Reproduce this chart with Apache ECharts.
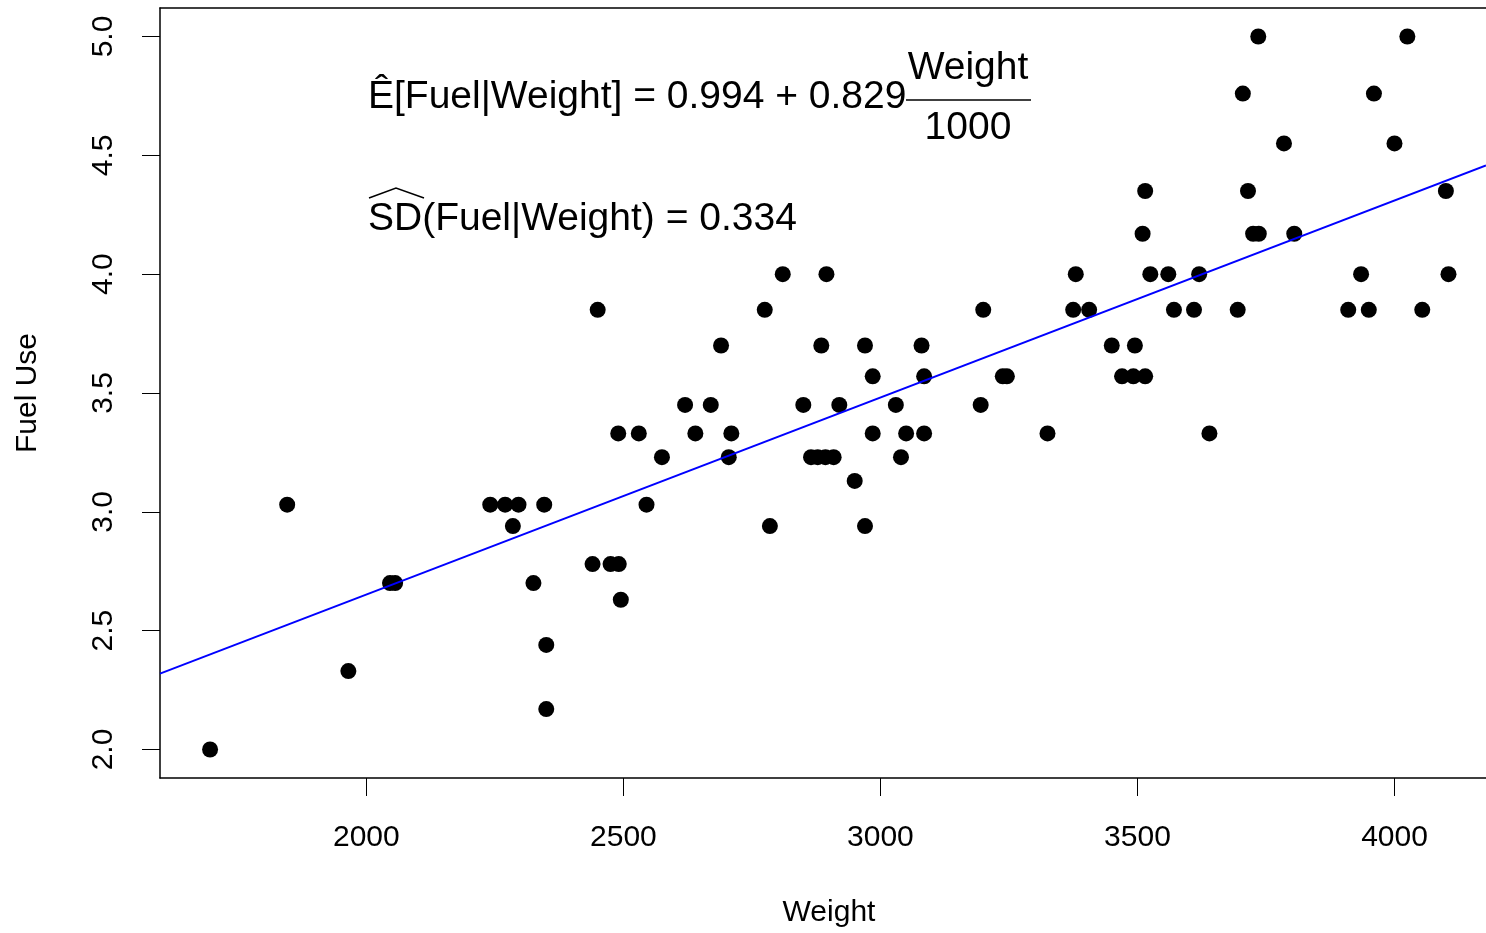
<!DOCTYPE html>
<html lang="en">
<head>
    <meta charset="UTF-8">
    <title>Fuel Use vs Weight</title>
    <script src="https://cdn.jsdelivr.net/npm/echarts@6/dist/echarts.min.js"></script>
    <style>
        html, body { margin: 0; padding: 0; background: #fff; }
        #main { width: 1486px; height: 933px; }
    </style>
</head>
<body>
    <div id="main"></div>
</body>
<script>

    // data
    var weight = [1696, 1846, 1965, 2046, 2056, 2241, 2270, 2285, 2296, 2325,
        2346, 2350, 2350, 2440, 2450, 2475, 2490, 2491, 2495, 2530,
        2545, 2575, 2620, 2640, 2670, 2690, 2705, 2710, 2775, 2785,
        2810, 2850, 2865, 2878, 2885, 2893, 2895, 2909, 2920, 2950,
        2970, 2970, 2985, 2985, 3030, 3040, 3050, 3080, 3085, 3085,
        3195, 3200, 3238, 3246, 3325, 3375, 3380, 3406, 3450, 3470,
        3492, 3495, 3510, 3515, 3515, 3525, 3560, 3571, 3610, 3620,
        3640, 3695, 3705, 3715, 3725, 3735, 3736, 3785, 3805, 3910,
        3935, 3950, 3960, 4000, 4025, 4054, 4100, 4105];
    var fuel = [2.00, 3.03, 2.33, 2.70, 2.70, 3.03, 3.03, 2.94, 3.03, 2.70,
        3.03, 2.44, 2.17, 2.78, 3.85, 2.78, 3.33, 2.78, 2.63, 3.33,
        3.03, 3.23, 3.45, 3.33, 3.45, 3.70, 3.23, 3.33, 3.85, 2.94,
        4.00, 3.45, 3.23, 3.23, 3.70, 3.23, 4.00, 3.23, 3.45, 3.13,
        3.70, 2.94, 3.57, 3.33, 3.45, 3.23, 3.33, 3.70, 3.57, 3.33,
        3.45, 3.85, 3.57, 3.57, 3.33, 3.85, 4.00, 3.85, 3.70, 3.57,
        3.57, 3.70, 4.17, 3.57, 4.35, 4.00, 4.00, 3.85, 3.85, 4.00,
        3.33, 3.85, 4.76, 4.35, 4.17, 5.00, 4.17, 4.55, 4.17, 3.85,
        4.00, 3.85, 4.76, 4.55, 5.00, 3.85, 4.35, 4.00];

    var xTicks = [2000, 2500, 3000, 3500, 4000];
    var yTicks = [2.0, 2.5, 3.0, 3.5, 4.0, 4.5, 5.0];

    // fitted line
    var intercept = 0.994;
    var slope = 0.829;

    // visible limits (the plot box runs off the right edge)
    var xMin = 1598.6, xMax = 4178;
    var yMin = 1.88, yMax = 5.12;

    var points = [];
    for (var i = 0; i < weight.length; i++) {
        points.push([weight[i], fuel[i]]);
    }
    var fitLine = [
        [xMin, intercept + slope * xMin / 1000],
        [xMax, intercept + slope * xMax / 1000]
    ];

    var FONT = 'Liberation Sans, Arial, Helvetica, sans-serif';
    var boxLine = { show: true, lineStyle: { color: '#000', width: 1.5 } };

    var myChart = echarts.init(document.getElementById('main'));

    var option = {
        animation: false,
        backgroundColor: '#fff',
        grid: { left: 160, top: 8, right: 0, bottom: 155 },
        xAxis: [
            {
                type: 'value',
                min: xMin, max: xMax,
                name: 'Weight',
                nameLocation: 'middle',
                nameGap: 120,
                nameTextStyle: { fontSize: 30, color: '#000', fontFamily: FONT, padding: [0, 0, 0, 12] },
                axisLine: boxLine,
                splitLine: { show: false },
                axisTick: { show: true, length: 18, lineStyle: { color: '#000', width: 1 }, customValues: xTicks },
                axisLabel: {
                    fontSize: 30, color: '#000', fontFamily: FONT, margin: 45, customValues: xTicks,
                    formatter: function (v) { return String(v); }
                }
            },
            {
                type: 'value',
                position: 'top',
                min: xMin, max: xMax,
                axisLine: boxLine,
                axisTick: { show: false },
                axisLabel: { show: false },
                splitLine: { show: false }
            }
        ],
        yAxis: {
            type: 'value',
            min: yMin, max: yMax,
            name: 'Fuel Use',
            nameLocation: 'middle',
            nameGap: 117,
            nameRotate: 90,
            nameTextStyle: { fontSize: 30, color: '#000', fontFamily: FONT },
            axisLine: boxLine,
            splitLine: { show: false },
            axisTick: { show: true, length: 18, lineStyle: { color: '#000', width: 1 }, customValues: yTicks },
            axisLabel: {
                fontSize: 30, color: '#000', fontFamily: FONT, margin: 41, rotate: 90,
                customValues: yTicks,
                formatter: function (v) { return v.toFixed(1); }
            }
        },
        series: [
            {
                type: 'scatter',
                data: points,
                symbol: 'circle',
                symbolSize: 16,
                itemStyle: { color: '#000', opacity: 1 },
                z: 2
            },
            {
                type: 'line',
                data: fitLine,
                showSymbol: false,
                symbol: 'none',
                lineStyle: { color: '#0000ff', width: 2 },
                z: 3
            }
        ],
        graphic: [
            {
                type: 'text', left: 368, top: 78, z: 10,
                style: { text: 'Ê[Fuel|Weight] = 0.994 + 0.829', fontSize: 39, fontFamily: FONT, fill: '#000' }
            },
            {
                type: 'text', x: 968, y: 68, z: 10,
                style: { text: 'Weight', fontSize: 39, fontFamily: FONT, fill: '#000', align: 'center', verticalAlign: 'middle' }
            },
            {
                type: 'line', z: 10,
                shape: { x1: 906, y1: 100, x2: 1031, y2: 100 },
                style: { stroke: '#000', lineWidth: 1.5 }
            },
            {
                type: 'text', x: 968, y: 128, z: 10,
                style: { text: '1000', fontSize: 39, fontFamily: FONT, fill: '#000', align: 'center', verticalAlign: 'middle' }
            },
            {
                type: 'polyline', z: 10,
                shape: { points: [[369, 198], [396, 188], [424, 198]] },
                style: { stroke: '#000', lineWidth: 1.5, fill: null }
            },
            {
                type: 'text', left: 368, top: 200, z: 10,
                style: { text: 'SD(Fuel|Weight) = 0.334', fontSize: 39, fontFamily: FONT, fill: '#000' }
            }
        ]
    };

    myChart.setOption(option);

</script>
</html>
